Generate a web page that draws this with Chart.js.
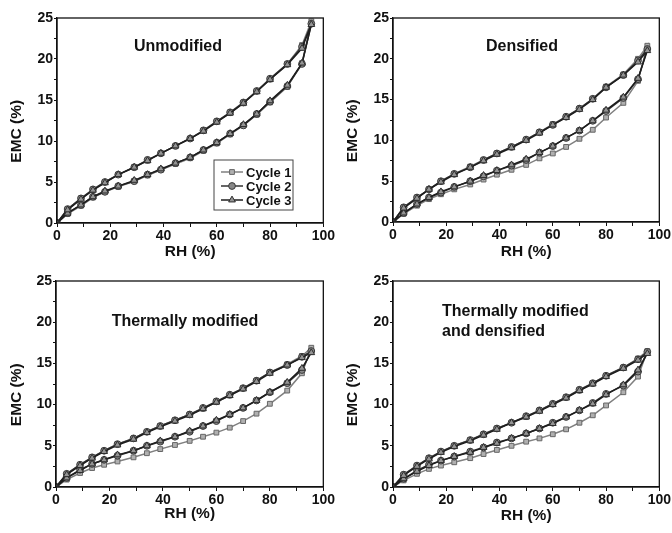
<!DOCTYPE html>
<html>
<head>
<meta charset="utf-8">
<script src="https://cdn.jsdelivr.net/npm/chart.js@4.4.0/dist/chart.umd.min.js"></script>
<style>
  body { margin: 0; background: #fff; }
  #wrap { position: relative; width: 672px; height: 533px; }
  canvas { position: absolute; }
</style>
</head>
<body>
<div id="wrap">
  <canvas id="c1" width="336" height="266" style="left:0;top:0"></canvas>
  <canvas id="c2" width="336" height="266" style="left:336px;top:0"></canvas>
  <canvas id="c3" width="336" height="267" style="left:0;top:266px"></canvas>
  <canvas id="c4" width="336" height="267" style="left:336px;top:266px"></canvas>
</div>
<script>
// relative humidity steps (adsorption goes up, desorption comes back down)
const rh = [0, 4, 9, 13.5, 18, 23, 29, 34, 39, 44.5, 50, 55, 60, 65, 70, 75, 80, 86.5, 92, 95.5];
const cycleNames = ["Cycle 1", "Cycle 2", "Cycle 3"];
const xTicks = [0, 20, 40, 60, 80, 100];
const yTicks = [0, 5, 10, 15, 20, 25];

// Unmodified
const unmodAds1 = [0, 1.1, 2.1, 3.1, 3.8, 4.4, 5.1, 5.8, 6.5, 7.2, 7.9, 8.8, 9.7, 10.8, 11.9, 13.2, 14.7, 16.6, 19.5, 24.6];
const unmodAds2 = [0, 1.2, 2.2, 3.2, 3.8, 4.5, 5.1, 5.9, 6.5, 7.3, 8.0, 8.9, 9.8, 10.9, 11.9, 13.3, 14.8, 16.7, 19.4, 24.3];
const unmodAds3 = [0, 1.2, 2.2, 3.2, 3.9, 4.5, 5.2, 5.9, 6.6, 7.3, 8.0, 8.9, 9.8, 10.9, 12.0, 13.3, 14.9, 16.8, 19.5, 24.2];
const unmodDes1 = [0, 1.7, 3.0, 4.0, 5.0, 5.9, 6.8, 7.6, 8.5, 9.4, 10.3, 11.3, 12.4, 13.4, 14.6, 16.1, 17.5, 19.4, 21.7];
const unmodDes2 = [0, 1.7, 3.0, 4.1, 5.0, 5.9, 6.8, 7.7, 8.5, 9.4, 10.3, 11.3, 12.4, 13.5, 14.7, 16.1, 17.6, 19.4, 21.5];
const unmodDes3 = [0, 1.6, 2.9, 4.0, 4.9, 5.9, 6.8, 7.6, 8.5, 9.4, 10.3, 11.2, 12.3, 13.4, 14.6, 16.0, 17.5, 19.3, 21.3];

// Densified
const densAds1 = [0, 1.0, 2.0, 2.8, 3.4, 4.0, 4.6, 5.2, 5.8, 6.4, 7.0, 7.8, 8.4, 9.2, 10.2, 11.3, 12.8, 14.6, 17.3, 21.6];
const densAds2 = [0, 1.1, 2.2, 3.0, 3.6, 4.3, 5.0, 5.6, 6.3, 6.9, 7.6, 8.5, 9.3, 10.3, 11.2, 12.4, 13.6, 15.2, 17.5, 21.2];
const densAds3 = [0, 1.1, 2.2, 3.0, 3.7, 4.3, 5.0, 5.7, 6.3, 7.0, 7.7, 8.5, 9.3, 10.3, 11.2, 12.4, 13.7, 15.3, 17.6, 21.0];
const densDes1 = [0, 1.8, 3.0, 4.0, 5.0, 5.9, 6.8, 7.6, 8.4, 9.2, 10.1, 11.0, 12.0, 12.9, 13.9, 15.1, 16.6, 18.1, 20.0];
const densDes2 = [0, 1.8, 3.0, 4.0, 5.0, 5.9, 6.7, 7.6, 8.4, 9.2, 10.1, 11.0, 11.9, 12.9, 13.9, 15.1, 16.5, 18.0, 19.8];
const densDes3 = [0, 1.7, 2.9, 4.0, 4.9, 5.8, 6.7, 7.5, 8.3, 9.1, 10.0, 10.9, 11.9, 12.8, 13.8, 15.0, 16.5, 18.0, 19.6];

// Thermally modified
const thermAds1 = [0, 0.9, 1.7, 2.3, 2.7, 3.1, 3.6, 4.1, 4.6, 5.1, 5.6, 6.1, 6.6, 7.2, 8.0, 8.9, 10.1, 11.7, 13.8, 16.9];
const thermAds2 = [0, 1.1, 2.1, 2.8, 3.3, 3.8, 4.4, 5.0, 5.5, 6.1, 6.7, 7.4, 8.0, 8.8, 9.6, 10.5, 11.5, 12.6, 14.2, 16.5];
const thermAds3 = [0, 1.1, 2.0, 2.8, 3.3, 3.9, 4.4, 5.0, 5.6, 6.1, 6.8, 7.4, 8.1, 8.8, 9.6, 10.5, 11.5, 12.7, 14.4, 16.3];
const thermDes1 = [0, 1.6, 2.7, 3.6, 4.4, 5.2, 5.9, 6.7, 7.4, 8.1, 8.8, 9.5, 10.3, 11.1, 12.0, 12.9, 13.9, 14.9, 15.9];
const thermDes2 = [0, 1.6, 2.7, 3.6, 4.4, 5.2, 5.9, 6.7, 7.4, 8.1, 8.8, 9.6, 10.4, 11.2, 12.0, 12.9, 13.9, 14.8, 15.8];
const thermDes3 = [0, 1.5, 2.6, 3.5, 4.3, 5.1, 5.8, 6.6, 7.3, 8.0, 8.7, 9.5, 10.3, 11.1, 11.9, 12.8, 13.8, 14.8, 15.7];

// Thermally modified and densified
const tdAds1 = [0, 0.8, 1.6, 2.2, 2.6, 3.0, 3.5, 4.0, 4.5, 5.0, 5.5, 5.9, 6.4, 7.0, 7.8, 8.7, 9.9, 11.5, 13.4, 16.5];
const tdAds2 = [0, 1.0, 2.0, 2.7, 3.2, 3.7, 4.3, 4.8, 5.4, 5.9, 6.5, 7.1, 7.8, 8.5, 9.3, 10.2, 11.3, 12.3, 14.0, 16.4];
const tdAds3 = [0, 1.0, 1.9, 2.6, 3.2, 3.7, 4.2, 4.8, 5.3, 5.9, 6.5, 7.1, 7.7, 8.5, 9.3, 10.1, 11.2, 12.4, 14.2, 16.2];
const tdDes1 = [0, 1.5, 2.6, 3.5, 4.3, 5.0, 5.7, 6.4, 7.1, 7.8, 8.5, 9.3, 10.1, 10.9, 11.7, 12.6, 13.5, 14.5, 15.6];
const tdDes2 = [0, 1.5, 2.6, 3.5, 4.3, 5.0, 5.7, 6.4, 7.1, 7.8, 8.6, 9.3, 10.1, 10.9, 11.8, 12.6, 13.5, 14.5, 15.5];
const tdDes3 = [0, 1.4, 2.5, 3.4, 4.2, 4.9, 5.6, 6.3, 7.0, 7.8, 8.5, 9.2, 10.0, 10.8, 11.7, 12.5, 13.4, 14.4, 15.4];

const FONT = "'Liberation Sans', Arial, sans-serif";

const cycleStyles = [
  { pointStyle: "rect", line: "#808080", fill: "#b0b0b0", edge: "#666", radius: 3.4 },
  { pointStyle: "circle", line: "#333", fill: "#888", edge: "#3a3a3a", radius: 3.4 },
  { pointStyle: "triangle", line: "#1e1e1e", fill: "#949494", edge: "#2e2e2e", radius: 3.9 }
];

// adsorption up to top, then desorption back to 0
function loop(ads, des) {
  const pts = rh.map((x, i) => ({ x, y: ads[i] }));
  for (let i = des.length - 1; i >= 0; i--) pts.push({ x: rh[i], y: des[i] });
  return pts;
}

const frame = {
  id: "frame",
  afterDraw(chart) {
    const a = chart.chartArea, ctx = chart.ctx;
    ctx.save();
    ctx.strokeStyle = "#111";
    ctx.lineWidth = 1.3;
    ctx.strokeRect(a.left, a.top, a.right - a.left, a.bottom - a.top);
    ctx.restore();
  }
};

const panelLabel = {
  id: "panelLabel",
  afterDraw(chart, args, o) {
    const ctx = chart.ctx;
    ctx.save();
    ctx.fillStyle = "#111";
    ctx.font = "bold 16px " + FONT;
    ctx.textAlign = o.align;
    ctx.textBaseline = "middle";
    o.lines.forEach((t, i) => ctx.fillText(t, o.x, o.y + i * 20));
    ctx.restore();
  }
};

const legendBox = {
  id: "legendBox",
  afterDraw(chart, args, o) {
    if (!o.show) return;
    const ctx = chart.ctx;
    ctx.save();
    ctx.strokeStyle = "#444";
    ctx.lineWidth = 1;
    ctx.strokeRect(o.x, o.y, o.w, o.h);
    cycleNames.forEach((name, i) => {
      const st = cycleStyles[i];
      const y = o.y + 12 + i * 14;
      ctx.strokeStyle = st.line;
      ctx.lineWidth = 1.5;
      ctx.beginPath();
      ctx.moveTo(o.x + 7, y);
      ctx.lineTo(o.x + 29, y);
      ctx.stroke();
      ctx.fillStyle = st.fill;
      ctx.strokeStyle = st.edge;
      ctx.lineWidth = 1;
      Chart.helpers.drawPoint(ctx, { pointStyle: st.pointStyle, radius: st.radius, borderWidth: 1, rotation: 0 }, o.x + 18, y);
      ctx.fillStyle = "#111";
      ctx.font = "bold 13px " + FONT;
      ctx.textAlign = "left";
      ctx.textBaseline = "middle";
      ctx.fillText(name, o.x + 32, y + 1);
    });
    ctx.restore();
  }
};

function makePanel(id, series, p) {
  const datasets = series.map((s, i) => {
    const st = cycleStyles[i];
    return {
      label: cycleNames[i],
      data: loop(s[0], s[1]),
      showLine: true,
      borderColor: st.line,
      borderWidth: 1.5,
      pointStyle: st.pointStyle,
      pointRadius: st.radius,
      pointBackgroundColor: st.fill,
      pointBorderColor: st.edge,
      pointBorderWidth: 1,
      order: 3 - i
    };
  });

  new Chart(document.getElementById(id), {
    type: "scatter",
    data: { datasets },
    plugins: [frame, panelLabel, legendBox],
    options: {
      responsive: false,
      animation: false,
      layout: { padding: { top: p.top, right: p.right, left: 0, bottom: 0 } },
      plugins: {
        legend: { display: false },
        tooltip: { enabled: false },
        panelLabel: { lines: p.lines, x: p.tx, y: p.ty, align: p.align },
        legendBox: p.legend || { show: false }
      },
      scales: {
        x: {
          min: 0, max: 100,
          afterFit(scale) { scale.height = p.xH; },
          ticks: {
            stepSize: 10, autoSkip: false, maxRotation: 0, padding: 1,
            color: "#111", font: { family: FONT, size: 14, weight: "bold" },
            callback: v => xTicks.includes(v) ? v : ""
          },
          grid: { drawOnChartArea: false, drawTicks: true, tickLength: 4, color: "#111" },
          border: { color: "#111", width: 1.3 },
          title: {
            display: true, text: "RH (%)", color: "#111",
            font: { family: FONT, size: 15.5, weight: "bold" },
            padding: { top: 0, bottom: p.rhPad }
          }
        },
        y: {
          min: 0, max: 25,
          afterFit(scale) { scale.width = p.yW; },
          ticks: {
            stepSize: 2.5, autoSkip: false, padding: 1,
            color: "#111", font: { family: FONT, size: 14, weight: "bold" },
            callback: v => yTicks.includes(v) ? v : ""
          },
          grid: { drawOnChartArea: false, drawTicks: true, tickLength: 3, color: "#111" },
          border: { color: "#111", width: 1.3 },
          title: {
            display: true, text: "EMC (%)     ", color: "#111",
            font: { family: FONT, size: 15.5, weight: "bold" },
            padding: { top: 7, bottom: 0 }
          }
        }
      }
    }
  });
}

makePanel("c1", [[unmodAds1, unmodDes1], [unmodAds2, unmodDes2], [unmodAds3, unmodDes3]],
  { yW: 57, right: 10, top: 18, xH: 43, rhPad: 5, lines: ["Unmodified"], tx: 178, ty: 47, align: "center",
    legend: { show: true, x: 214, y: 160, w: 79, h: 50 } });
makePanel("c2", [[densAds1, densDes1], [densAds2, densDes2], [densAds3, densDes3]],
  { yW: 57, right: 11, top: 18, xH: 44, rhPad: 5, lines: ["Densified"], tx: 186, ty: 47, align: "center" });
makePanel("c3", [[thermAds1, thermDes1], [thermAds2, thermDes2], [thermAds3, thermDes3]],
  { yW: 56, right: 11, top: 15, xH: 46, rhPad: 10, lines: ["Thermally modified"], tx: 185, ty: 56, align: "center" });
makePanel("c4", [[tdAds1, tdDes1], [tdAds2, tdDes2], [tdAds3, tdDes3]],
  { yW: 57, right: 11, top: 15, xH: 46, rhPad: 8, lines: ["Thermally modified", "and densified"], tx: 106, ty: 46, align: "left" });
</script>
</body>
</html>
